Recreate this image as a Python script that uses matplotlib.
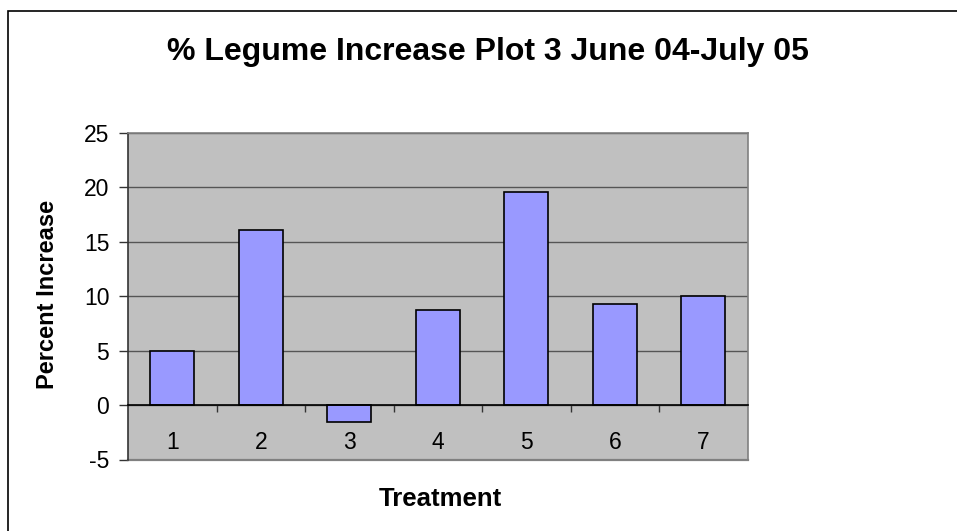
import matplotlib.pyplot as plt
from matplotlib.patches import Rectangle
import numpy as np

treatments = ['1', '2', '3', '4', '5', '6', '7']
percent_increase = [5.0, 16.1, -1.6, 8.7, 19.6, 9.3, 10.0]

plt.rcParams['font.family'] = ['Liberation Sans', 'DejaVu Sans']
plt.rcParams['axes.unicode_minus'] = False

fig = plt.figure(figsize=(9.57, 5.31), dpi=100)
ax = fig.add_axes([128 / 957, 1 - 459.5 / 531, 619.5 / 957, 326.8 / 531])

# chart area border (only left and top visible)
fig.patches.append(Rectangle((8 / 957, -0.2), 1.2, 1.2 - 11 / 531, transform=fig.transFigure,
                             fill=False, edgecolor='black', linewidth=1.2))

x = np.arange(1, len(treatments) + 1)
ax.set_facecolor('#C0C0C0')
ax.bar(x, percent_increase, width=0.5, color='#9999FF', edgecolor='black', linewidth=1.2, zorder=3)

ax.set_xlim(0.5, 7.5)
ax.set_ylim(-5, 25)
ax.set_yticks(np.arange(-5, 26, 5))
ax.yaxis.grid(True, color='#555555', linewidth=1.0)
ax.set_axisbelow(True)
ax.tick_params(axis='y', labelsize=16.5, length=6.5, width=1, color='#333333', pad=7)

# x axis at zero, ticks between categories, labels at centers
ax.spines['bottom'].set_position(('data', 0))
ax.spines['bottom'].set_color('black')
ax.spines['bottom'].set_zorder(4)
ax.set_xticks(np.arange(1.5, 7.5, 1))
ax.set_xticklabels([])
ax.tick_params(axis='x', which='major', length=5, width=1, color='#333333', direction='out')
ax.set_xticks(x, minor=True)
ax.set_xticklabels(treatments, minor=True)
ax.tick_params(axis='x', which='minor', length=0, labelsize=16.5, pad=19)

ax.spines['left'].set_color('#333333')
ax.spines['top'].set_color('#808080')
ax.spines['right'].set_color('#808080')
for s in ax.spines.values():
    s.set_linewidth(1.2)

# bottom border of plot area
ax.axhline(-5, color='#808080', linewidth=1.6, clip_on=False)

fig.text(488 / 957, 1 - 52 / 531, '% Legume Increase Plot 3 June 04-July 05', ha='center', va='center',
         fontsize=23, fontweight='bold')
fig.text(48 / 957, 1 - 294 / 531, 'Percent Increase', ha='center', va='center', rotation=90,
         fontsize=17, fontweight='bold')
fig.text(440 / 957, 1 - 499 / 531, 'Treatment', ha='center', va='center',
         fontsize=18.5, fontweight='bold')

plt.savefig('out.png', dpi=100)
